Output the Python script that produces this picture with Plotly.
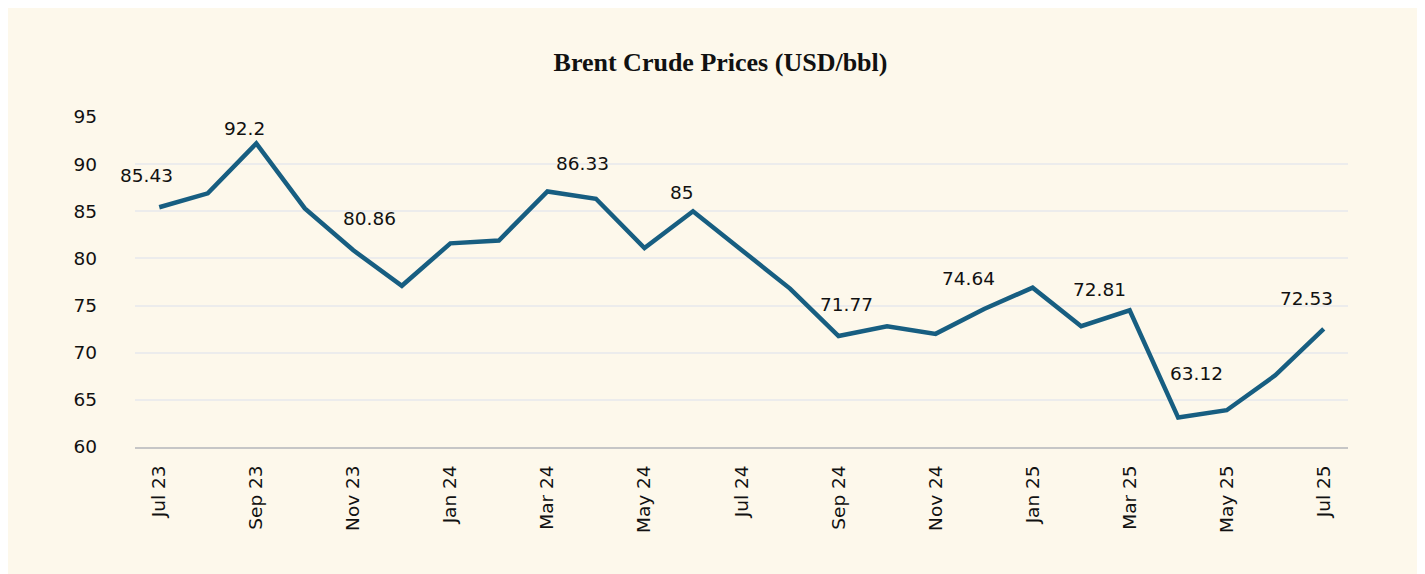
import plotly.graph_objects as go

months = ["Jul 23", "Aug 23", "Sep 23", "Oct 23", "Nov 23", "Dec 23",
          "Jan 24", "Feb 24", "Mar 24", "Apr 24", "May 24", "Jun 24",
          "Jul 24", "Aug 24", "Sep 24", "Oct 24", "Nov 24", "Dec 24",
          "Jan 25", "Feb 25", "Mar 25", "Apr 25", "May 25", "Jun 25", "Jul 25"]
prices = [85.43, 86.9, 92.2, 85.3, 80.86, 77.1,
          81.6, 81.9, 87.1, 86.33, 81.1, 85.0,
          80.9, 76.8, 71.77, 72.8, 72.0, 74.64,
          76.9, 72.81, 74.5, 63.12, 63.9, 67.6, 72.53]
labeled_months = ["Jul 23", "Sep 23", "Nov 23", "Apr 24", "Jun 24",
                  "Sep 24", "Dec 24", "Feb 25", "Apr 25", "Jul 25"]
label_texts = ["85.43", "92.2", "80.86", "86.33", "85",
               "71.77", "74.64", "72.81", "63.12", "72.53"]
tick_labels = months[::2]

# label offsets in pixels (style)
label_shift = [(-13, 32), (-12, 15), (16, 32), (-13, 35), (-11, 19),
               (8, 32), (-16, 30), (18, 37), (18, 44), (-17, 30)]

W, H = 1425, 574
L, R, T, B = 127, 85, 109, 135
FONT = "DejaVu Sans, Inter, sans-serif"

xi = list(range(len(months)))

fig = go.Figure()
fig.add_trace(go.Scatter(
    x=xi, y=prices, mode="lines",
    line=dict(color="#175E81", width=4.5), hoverinfo="skip", showlegend=False))

for m, t, (dx, dy) in zip(labeled_months, label_texts, label_shift):
    i = months.index(m)
    fig.add_annotation(x=i, y=prices[i], text=t, showarrow=False,
                       xshift=dx, yshift=dy, xanchor="center", yanchor="middle",
                       font=dict(family=FONT, size=18.5, color="#111111"))

fig.update_layout(
    width=W, height=H,
    margin=dict(l=L, r=R, t=T, b=B),
    paper_bgcolor="#FDF8EB",
    plot_bgcolor="#FDF8EB",
    title=dict(text="<b>Brent Crude Prices (USD/bbl)</b>",
               font=dict(family="Liberation Serif, Times New Roman, serif", size=26, color="#111111"),
               xref="container", x=0.5, xanchor="center",
               yref="container", y=1 - 54 / H, yanchor="middle"),
    xaxis=dict(range=[-0.5, len(months) - 0.5], tickvals=xi[::2], ticktext=tick_labels,
               tickangle=-90, showgrid=False, zeroline=False,
               showline=True, linecolor="#C6C6C6", linewidth=2,
               ticks="", ticklabelstandoff=9,
               tickfont=dict(family=FONT, size=18.5, color="#111111")),
    yaxis=dict(range=[60, 95], dtick=5, tick0=60, showgrid=True,
               gridcolor="#ECECEC", gridwidth=2, zeroline=False, showline=False,
               ticks="", ticklabelstandoff=37,
               tickfont=dict(family=FONT, size=18.5, color="#111111")),
)

fig.write_html("out.html")
